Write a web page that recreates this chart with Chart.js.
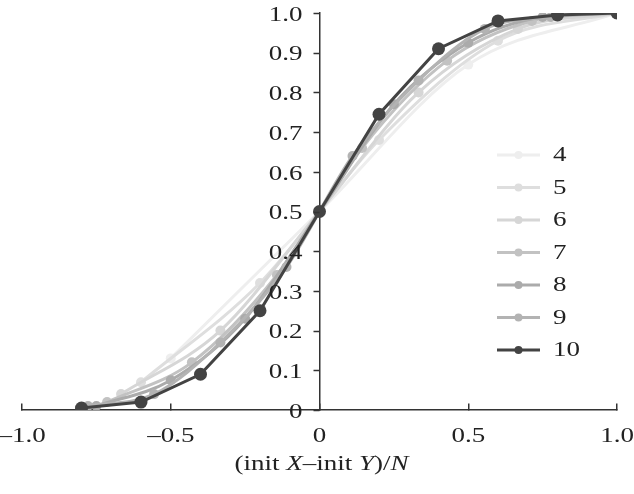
<!DOCTYPE html>
<html>
<head>
<meta charset="utf-8">
<script src="https://cdn.jsdelivr.net/npm/chart.js@4/dist/chart.umd.min.js"></script>
<style>
  html, body { margin: 0; padding: 0; background: #fff; }
  #wrap { width: 634px; height: 494px; position: relative; }
</style>
</head>
<body>
<div id="wrap"><canvas id="sigmoidChart"></canvas></div>
<script>
// Series values (x = (init X - init Y)/N)
const sizes = [4, 5, 6, 7, 8, 9, 10];

const x4 = [-0.5, 0, 0.5, 1.0];
const y4 = [0.13, 0.5, 0.87, 1.0];

const x5 = [-0.6, -0.2, 0.2, 0.6, 1.0];
const y5 = [0.07, 0.32, 0.68, 0.93, 1.0];

const x6 = [-0.667, -0.333, 0, 0.333, 0.667, 1.0];
const y6 = [0.04, 0.2, 0.5, 0.8, 0.96, 1.0];

const x7 = [-0.714, -0.429, -0.143, 0.143, 0.429, 0.714, 1.0];
const y7 = [0.02, 0.12, 0.34, 0.66, 0.88, 0.98, 1.0];

const x8 = [-0.75, -0.5, -0.25, 0, 0.25, 0.5, 0.75, 1.0];
const y8 = [0.01, 0.075, 0.23, 0.5, 0.77, 0.925, 0.99, 1.0];

const x9 = [-0.778, -0.556, -0.333, -0.111, 0.111, 0.333, 0.556, 0.778, 1.0];
const y9 = [0.01, 0.04, 0.17, 0.36, 0.64, 0.83, 0.96, 0.99, 1.0];

const x10 = [-0.8, -0.6, -0.4, -0.2, 0, 0.2, 0.4, 0.6, 0.8, 1.0];
const y10 = [0.005, 0.02, 0.09, 0.25, 0.5, 0.745, 0.91, 0.98, 0.995, 1.0];

const xTicks = [-1.0, -0.5, 0, 0.5, 1.0];
const yTicks = [0, 0.1, 0.2, 0.3, 0.4, 0.5, 0.6, 0.7, 0.8, 0.9, 1.0];

const xs = [x4, x5, x6, x7, x8, x9, x10];
const ys = [y4, y5, y6, y7, y8, y9, y10];
const colors = ['#eeeeee', '#dedede', '#d6d6d6', '#c2c2c2', '#ababab', '#b3b3b3', '#434343'];

const serif = '"Liberation Serif", "DejaVu Serif", serif';
const stretch = 1.35; // the original type is set wide

function fmt(v) {
    if (v === 0) return '0';
    const s = Math.abs(v).toFixed(1);
    return v < 0 ? '\u2013' + s : s;
}

// draw text widened horizontally around its anchor
function wideText(ctx, text, x, y, align) {
    ctx.save();
    ctx.translate(x, y);
    ctx.scale(stretch, 1);
    ctx.textAlign = align;
    ctx.fillText(text, 0, 0);
    ctx.restore();
}

const datasets = sizes.map((n, i) => ({
    label: String(n),
    data: xs[i].map((x, j) => ({ x: x, y: ys[i][j] })),
    borderColor: colors[i],
    backgroundColor: colors[i],
    pointBackgroundColor: colors[i],
    pointBorderWidth: 0,
    pointRadius: n === 10 ? 6.5 : 5,
    borderWidth: 3,
    cubicInterpolationMode: n === 10 ? 'default' : 'monotone',
    tension: n === 10 ? 0 : 0.4,
    order: 10 - n
}));

// Legend drawn inside the plot area
const innerLegend = {
    id: 'innerLegend',
    afterDatasetsDraw(chart) {
        const ctx = chart.ctx;
        ctx.save();
        ctx.font = '20px ' + serif;
        ctx.textBaseline = 'middle';
        sizes.forEach((n, i) => {
            const y = 155 + i * 32.5;
            ctx.strokeStyle = colors[i];
            ctx.lineWidth = 3;
            ctx.beginPath();
            ctx.moveTo(497, y);
            ctx.lineTo(540, y);
            ctx.stroke();
            ctx.fillStyle = colors[i];
            ctx.beginPath();
            ctx.arc(518.5, y, 4, 0, Math.PI * 2);
            ctx.fill();
            ctx.fillStyle = '#222';
            wideText(ctx, String(n), 553, y + 1, 'left');
        });
        ctx.restore();
    }
};

// tick labels, y tick marks and the x title, placed from the chart scales
const axisText = {
    id: 'axisText',
    afterDraw(chart) {
        const ctx = chart.ctx;
        const xScale = chart.scales.x;
        const yScale = chart.scales.y;
        const x0 = xScale.getPixelForValue(0);
        const y0 = yScale.getPixelForValue(0);

        ctx.save();
        ctx.strokeStyle = '#333';
        ctx.lineWidth = 1.5;
        yTicks.forEach(v => {
            const py = Math.round(yScale.getPixelForValue(v)) + 0.5;
            ctx.beginPath();
            ctx.moveTo(x0, py);
            ctx.lineTo(x0 - 6, py);
            ctx.stroke();
        });

        ctx.fillStyle = '#222';
        ctx.font = '20px ' + serif;
        ctx.textBaseline = 'middle';
        yTicks.forEach(v => {
            wideText(ctx, fmt(v), x0 - 17, yScale.getPixelForValue(v) + 2.5, 'right');
        });
        xTicks.forEach(v => {
            wideText(ctx, fmt(v), xScale.getPixelForValue(v), y0 + 27, 'center');
        });

        const parts = [
            ['(init ', false], ['X', true], ['\u2013init ', false],
            ['Y', true], [')/', false], ['N', true]
        ];
        ctx.textBaseline = 'alphabetic';
        let total = 0;
        parts.forEach(p => {
            ctx.font = (p[1] ? 'italic ' : '') + '20px ' + serif;
            total += ctx.measureText(p[0]).width;
        });
        let x = x0 + 2 - total * stretch / 2;
        parts.forEach(p => {
            ctx.font = (p[1] ? 'italic ' : '') + '20px ' + serif;
            wideText(ctx, p[0], x, 470, 'left');
            x += ctx.measureText(p[0]).width * stretch;
        });
        ctx.restore();
    }
};

const ctx = document.getElementById('sigmoidChart').getContext('2d');
const chart = new Chart(ctx, {
    type: 'line',
    data: { datasets: datasets },
    options: {
        responsive: true,
        maintainAspectRatio: false,
        animation: false,
        layout: {
            padding: { left: 22, right: 17, top: 13, bottom: 84 }
        },
        plugins: {
            legend: { display: false },
            tooltip: { enabled: false }
        },
        scales: {
            x: {
                type: 'linear',
                min: -1,
                max: 1,
                position: { y: 0 },
                afterBuildTicks: axis => { axis.ticks = xTicks.map(v => ({ value: v })); },
                afterFit: axis => { axis.paddingLeft = 0; axis.paddingRight = 0; },
                grid: {
                    drawOnChartArea: false,
                    drawTicks: true,
                    tickLength: -7,
                    color: '#333',
                    lineWidth: 1.5
                },
                border: { color: '#333', width: 1.5 },
                ticks: { display: false }
            },
            y: {
                type: 'linear',
                min: 0,
                max: 1,
                position: { x: 0 },
                afterBuildTicks: axis => { axis.ticks = yTicks.map(v => ({ value: v })); },
                afterFit: axis => { axis.paddingTop = 0; axis.paddingBottom = 0; },
                grid: {
                    drawOnChartArea: false,
                    drawTicks: false,
                    color: '#333',
                    lineWidth: 1.5
                },
                border: { color: '#333', width: 1.5 },
                ticks: { display: false }
            }
        }
    },
    plugins: [innerLegend, axisText]
});
</script>
</body>
</html>
